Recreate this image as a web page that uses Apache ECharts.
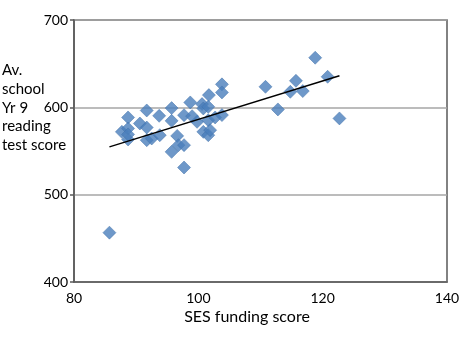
<!DOCTYPE html>
<html>
<head>
<meta charset="utf-8">
<script src="https://cdn.jsdelivr.net/npm/echarts@6/dist/echarts.min.js"></script>
<style>html,body{margin:0;padding:0;background:#fff;}#c{width:465px;height:343px;}</style>
</head>
<body>
<div id="c"></div>
<script>
// SES funding score (x) and average school Yr 9 reading test score (y)
var sesScore = [85.7,103.8,103.8,101.7,110.8,98.7,100.6,100.8,101.6,95.7,91.7,88.7,93.7,95.7,97.7,99.0,99.8,101.6,102.7,103.8,90.6,91.7,87.7,88.7,88.7,91.7,92.5,93.8,100.8,101.6,101.9,96.6,96.8,97.7,95.7,97.7,112.8,114.8,115.7,116.8,118.8,120.8,122.7,88.7];
var readingScore = [456.5,626.3,617.1,614.0,623.5,605.6,603.7,598.7,600.6,599.1,596.4,588.4,590.3,584.5,591.0,589.9,583.4,585.3,588.4,591.1,581.5,576.9,571.9,575.8,563.2,562.4,564.3,568.1,571.9,568.1,573.9,567.3,556.7,556.7,549.0,531.1,597.6,617.8,630.4,618.6,656.8,635.0,587.3,569.0];
// trend line end points
var trendX = [85.7, 122.7];
var trendY = [554.7, 636.2];
var xTicks = [80, 100, 120, 140];
var yTicks = [400, 500, 600, 700];

var pts = sesScore.map(function (x, i) { return [x, readingScore[i]]; });
var trend = trendX.map(function (x, i) { return [x, trendY[i]]; });
var FONT = 'Lato';

var chart = echarts.init(document.getElementById('c'), null, {renderer: 'canvas'});
chart.setOption({
  animation: false,
  backgroundColor: '#fff',
  grid: {left: 74, right: 18, top: 20, bottom: 61, show: true, borderColor: '#595959', borderWidth: 1.5, backgroundColor: 'transparent'},
  xAxis: {
    type: 'value', min: xTicks[0], max: xTicks[xTicks.length - 1], interval: 20,
    axisLine: {show: true, lineStyle: {color: '#595959', width: 1.5}},
    axisTick: {show: false},
    splitLine: {show: false},
    axisLabel: {color: '#000', fontFamily: FONT, fontSize: 14, margin: 9}
  },
  yAxis: {
    type: 'value', min: yTicks[0], max: yTicks[yTicks.length - 1], interval: 100,
    axisLine: {show: true, lineStyle: {color: '#595959', width: 1.5}},
    axisTick: {show: true, length: 4, lineStyle: {color: '#595959', width: 1.5}},
    splitLine: {show: true, lineStyle: {color: '#a6a6a6', width: 1.5}},
    axisLabel: {color: '#000', fontFamily: FONT, fontSize: 14, margin: 6}
  },
  graphic: [
    {type: 'text', left: 2, top: 61, style: {text: 'Av.\nschool\nYr 9\nreading\ntest score', fill: '#000', font: '15px ' + FONT, lineHeight: 18.7}},
    {type: 'text', x: 247, y: 317, style: {text: 'SES funding score', fill: '#000', font: '16px ' + FONT, align: 'center', verticalAlign: 'middle'}}
  ],
  series: [
    {type: 'scatter', data: pts, symbol: 'diamond', symbolSize: 13,
     itemStyle: {color: '#4a7ebb', borderColor: '#3f6fa8', borderWidth: 0.6}, z: 2},
    {type: 'line', data: trend, symbol: 'none', lineStyle: {color: '#000', width: 1.5}, z: 3}
  ]
});
</script>
</body>
</html>
